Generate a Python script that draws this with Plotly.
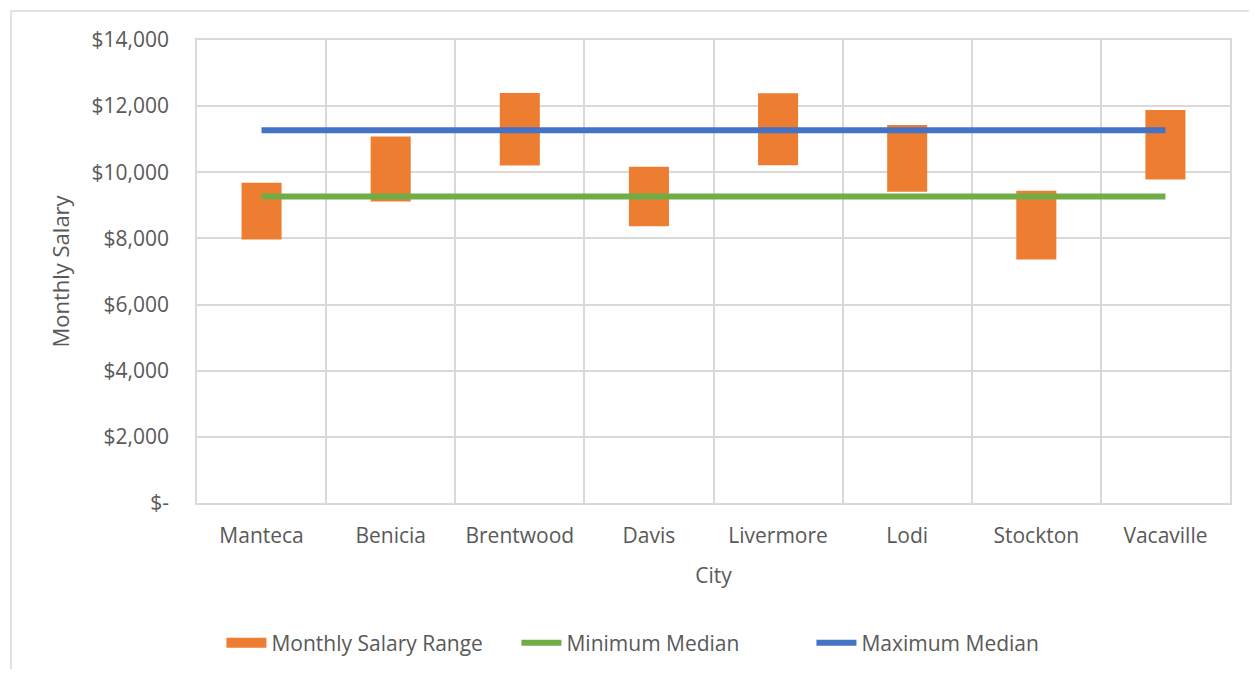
import plotly.graph_objects as go

# salary ranges per city
cities = ["Manteca", "Benicia", "Brentwood", "Davis", "Livermore", "Lodi", "Stockton", "Vacaville"]
range_low = [7970, 9115, 10205, 8370, 10215, 9410, 7365, 9780]
range_high = [9680, 11080, 12400, 10165, 12390, 11430, 9440, 11885]
min_median = [9270] * 8
max_median = [11270] * 8

y_ticks = [0, 2000, 4000, 6000, 8000, 10000, 12000, 14000]
y_tick_labels = ["$-", "$2,000", "$4,000", "$6,000", "$8,000", "$10,000", "$12,000", "$14,000"]

span = [h - l for h, l in zip(range_high, range_low)]

font_name = "Open Sans"
grey_txt = "#595959"
grid = "#d9d9d9"
orange = "#ED7D31"

fig = go.Figure()

fig.add_trace(go.Bar(x=cities, y=span, base=range_low, name="Monthly Salary Range",
                     marker=dict(color=orange, line=dict(width=0)), width=0.31,
                     showlegend=False))
# legend entry for the bars, drawn as a thick block like the spreadsheet one
fig.add_trace(go.Scatter(x=[None], y=[None], mode="lines", name="Monthly Salary Range",
                         line=dict(color=orange, width=16)))
fig.add_trace(go.Scatter(x=cities, y=min_median, mode="lines", name="Minimum Median",
                         line=dict(color="#70AD47", width=6)))
fig.add_trace(go.Scatter(x=cities, y=max_median, mode="lines", name="Maximum Median",
                         line=dict(color="#4472C4", width=6)))

# page body has an 8px margin, so the figure is sized to sit inside it
fig.update_layout(
    width=1241, height=661,
    margin=dict(l=189, r=19, t=32, b=166),
    paper_bgcolor="white", plot_bgcolor="white",
    font=dict(family=font_name, size=21, color=grey_txt),
    showlegend=True,
    legend=dict(orientation="h", xref="container", yref="container",
                x=0.172, y=0.039, xanchor="left", yanchor="middle",
                font=dict(size=21, color=grey_txt), itemwidth=40,
                entrywidth=240, entrywidthmode="pixels",
                traceorder="normal", tracegroupgap=0),
    bargap=0.69,
)

fig.update_xaxes(
    title=dict(text="City", font=dict(size=21, color=grey_txt), standoff=20),
    tickson="boundaries", showgrid=True, gridcolor=grid, gridwidth=1.5,
    showline=True, linecolor=grid, linewidth=1.5, mirror=True,
    ticks="", ticklabelstandoff=13, tickfont=dict(size=21, color=grey_txt),
)
fig.update_yaxes(
    title=dict(text="Monthly Salary", font=dict(size=22, color=grey_txt), standoff=16),
    range=[0, 14000], tickvals=y_ticks, ticktext=y_tick_labels,
    showgrid=True, gridcolor=grid, gridwidth=1.5,
    showline=True, linecolor=grid, linewidth=1.5, mirror=True,
    ticks="", ticklabelstandoff=22, tickfont=dict(size=21, color=grey_txt),
    zeroline=False,
)

# outer chart frame like the spreadsheet chart area
fig.add_shape(type="rect", xref="paper", yref="paper",
              x0=(3 - 189) / 1033, x1=(1250 - 189) / 1033,
              y0=(495 - 670) / 463, y1=(495 - 3) / 463,
              line=dict(color=grid, width=1.5), layer="below")

fig.write_html("out.html")
